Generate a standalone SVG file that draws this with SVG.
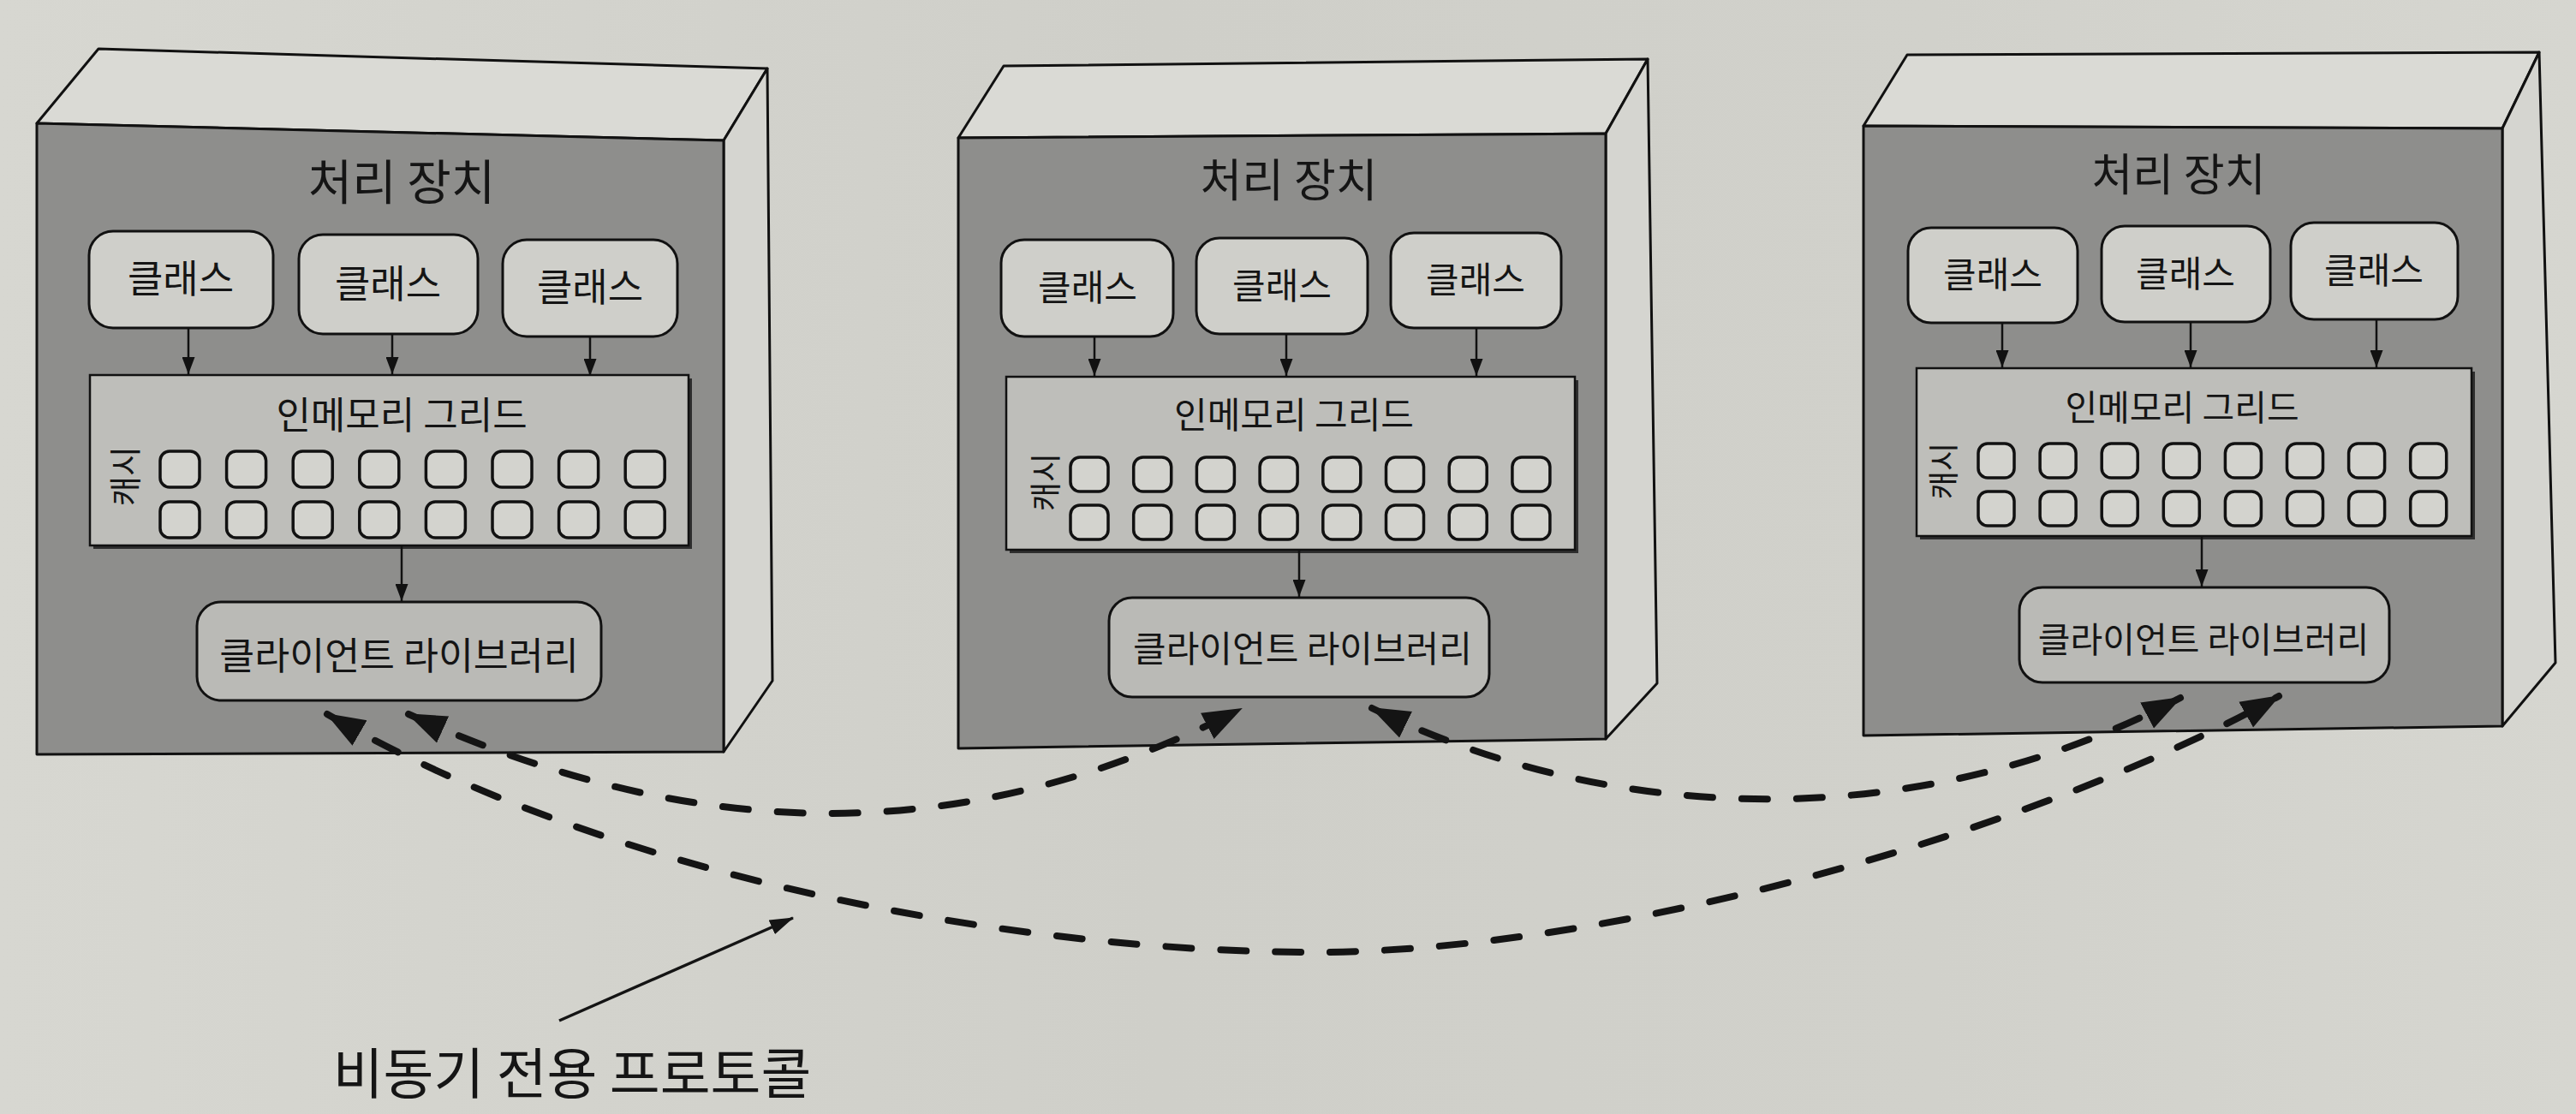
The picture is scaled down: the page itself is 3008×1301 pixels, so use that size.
<svg xmlns="http://www.w3.org/2000/svg" width="3008" height="1301" viewBox="0 0 3008 1301">
<defs>
<linearGradient id="paper" x1="0" y1="0" x2="1" y2="0">
<stop offset="0" stop-color="#d7d7d1"/>
<stop offset="0.45" stop-color="#cfcfc9"/>
<stop offset="0.75" stop-color="#d1d1cb"/>
<stop offset="1" stop-color="#d6d6d0"/>
</linearGradient>
<marker id="ah" markerUnits="userSpaceOnUse" markerWidth="20" markerHeight="15" viewBox="0 0 20 15" refX="20" refY="7.5" orient="auto">
<path d="M0,0 L20,7.5 L0,15 z" fill="#111"/>
</marker>
<marker id="big" markerUnits="userSpaceOnUse" markerWidth="46" markerHeight="36" viewBox="0 0 46 36" refX="44" refY="18" orient="auto-start-reverse">
<path d="M0,1 L46,18 L0,35 z" fill="#141414"/>
</marker>
<marker id="small" markerUnits="userSpaceOnUse" markerWidth="28" markerHeight="18" viewBox="0 0 28 18" refX="27" refY="9" orient="auto">
<path d="M0,0 L28,9 L0,18 z" fill="#141414"/>
</marker>
<style>
.top{fill:#dadad5;stroke:#111;stroke-width:3;stroke-linejoin:round}
.side{fill:#d5d5d0;stroke:#111;stroke-width:3;stroke-linejoin:round}
.front{fill:#8e8e8c;stroke:#111;stroke-width:3;stroke-linejoin:round}
.cls{fill:#cfcfca;stroke:#111;stroke-width:3}
.grid{fill:#bebeba;stroke:#111;stroke-width:2.5}
.shadow{fill:#2e2e2e}
.client{fill:#babab6;stroke:#111;stroke-width:3}
.cell{fill:#d3d3ce;stroke:#111;stroke-width:3.5}
.t{font-family:"Noto Sans CJK KR","Noto Sans",sans-serif;fill:#151515;text-anchor:middle}
.flow{stroke:#111;stroke-width:2.5;fill:none}
.dash{fill:none;stroke:#141414;stroke-width:8;stroke-dasharray:30 34;stroke-linecap:round}
.ptr{fill:none;stroke:#141414;stroke-width:3.5}
</style>
</defs>
<rect x="0" y="0" width="3008" height="1301" fill="url(#paper)"/>

<g id="node-processing-unit-1">
<polygon class="top" points="43,144 115,57 896,80 845,164"/>
<polygon class="side" points="845,164 896,80 902,795 845,878"/>
<polygon class="front" points="43,144 845,164 845,878 43,881"/>
<text class="t" x="469" y="233" font-size="56">처리 장치</text>
<g id="b1-class-a"><rect class="cls" x="104" y="270" width="215" height="113" rx="28"/><text class="t" x="211" y="342" font-size="45">클래스</text></g>
<g id="b1-class-b"><rect class="cls" x="349" y="274" width="209" height="116" rx="28"/><text class="t" x="453" y="348" font-size="45">클래스</text></g>
<g id="b1-class-c"><rect class="cls" x="587" y="280" width="204" height="113" rx="28"/><text class="t" x="689" y="352" font-size="45">클래스</text></g>
<g id="b1-grid">
<rect class="shadow" x="109" y="442" width="699" height="199"/>
<rect class="grid" x="105" y="438" width="699" height="199"/>
<text class="t" x="469" y="501" font-size="44">인메모리 그리드</text>
<text class="t" font-size="38" transform="translate(160,556) rotate(-90)">캐시</text>
<rect class="cell" x="187" y="527" width="46" height="42" rx="11"/>
<rect class="cell" x="264.6" y="527" width="46" height="42" rx="11"/>
<rect class="cell" x="342.2" y="527" width="46" height="42" rx="11"/>
<rect class="cell" x="419.8" y="527" width="46" height="42" rx="11"/>
<rect class="cell" x="497.4" y="527" width="46" height="42" rx="11"/>
<rect class="cell" x="575" y="527" width="46" height="42" rx="11"/>
<rect class="cell" x="652.6" y="527" width="46" height="42" rx="11"/>
<rect class="cell" x="730.2" y="527" width="46" height="42" rx="11"/>
<rect class="cell" x="187" y="586" width="46" height="42" rx="11"/>
<rect class="cell" x="264.6" y="586" width="46" height="42" rx="11"/>
<rect class="cell" x="342.2" y="586" width="46" height="42" rx="11"/>
<rect class="cell" x="419.8" y="586" width="46" height="42" rx="11"/>
<rect class="cell" x="497.4" y="586" width="46" height="42" rx="11"/>
<rect class="cell" x="575" y="586" width="46" height="42" rx="11"/>
<rect class="cell" x="652.6" y="586" width="46" height="42" rx="11"/>
<rect class="cell" x="730.2" y="586" width="46" height="42" rx="11"/>
</g>
<g id="b1-client"><rect class="client" x="230" y="703" width="472" height="115" rx="28"/><text class="t" x="466" y="782" font-size="44.5">클라이언트 라이브러리</text></g>
</g>

<g id="node-processing-unit-2">
<polygon class="top" points="1119,161 1172,77 1924,69 1875,156"/>
<polygon class="side" points="1875,156 1924,69 1935,798 1875,863"/>
<polygon class="front" points="1119,161 1875,156 1875,863 1119,874"/>
<text class="t" x="1505" y="230" font-size="53">처리 장치</text>
<g id="b2-class-a"><rect class="cls" x="1169" y="280" width="201" height="113" rx="27"/><text class="t" x="1270" y="351" font-size="42">클래스</text></g>
<g id="b2-class-b"><rect class="cls" x="1397" y="278" width="200" height="112" rx="27"/><text class="t" x="1497" y="349" font-size="42">클래스</text></g>
<g id="b2-class-c"><rect class="cls" x="1624" y="272" width="199" height="111" rx="27"/><text class="t" x="1723" y="342" font-size="42">클래스</text></g>
<g id="b2-grid">
<rect class="shadow" x="1179" y="444" width="664" height="202"/>
<rect class="grid" x="1175" y="440" width="664" height="202"/>
<text class="t" x="1511" y="500" font-size="42">인메모리 그리드</text>
<text class="t" font-size="37" transform="translate(1235,563) rotate(-90)">캐시</text>
<rect class="cell" x="1250" y="534" width="44" height="40" rx="11"/>
<rect class="cell" x="1323.7" y="534" width="44" height="40" rx="11"/>
<rect class="cell" x="1397.4" y="534" width="44" height="40" rx="11"/>
<rect class="cell" x="1471.1" y="534" width="44" height="40" rx="11"/>
<rect class="cell" x="1544.8" y="534" width="44" height="40" rx="11"/>
<rect class="cell" x="1618.5" y="534" width="44" height="40" rx="11"/>
<rect class="cell" x="1692.2" y="534" width="44" height="40" rx="11"/>
<rect class="cell" x="1765.9" y="534" width="44" height="40" rx="11"/>
<rect class="cell" x="1250" y="590" width="44" height="40" rx="11"/>
<rect class="cell" x="1323.7" y="590" width="44" height="40" rx="11"/>
<rect class="cell" x="1397.4" y="590" width="44" height="40" rx="11"/>
<rect class="cell" x="1471.1" y="590" width="44" height="40" rx="11"/>
<rect class="cell" x="1544.8" y="590" width="44" height="40" rx="11"/>
<rect class="cell" x="1618.5" y="590" width="44" height="40" rx="11"/>
<rect class="cell" x="1692.2" y="590" width="44" height="40" rx="11"/>
<rect class="cell" x="1765.9" y="590" width="44" height="40" rx="11"/>
</g>
<g id="b2-client"><rect class="client" x="1295" y="698" width="444" height="116" rx="27"/><text class="t" x="1521" y="773" font-size="42">클라이언트 라이브러리</text></g>
</g>

<g id="node-processing-unit-3">
<polygon class="top" points="2176,147 2227,64 2965,61 2922,150"/>
<polygon class="side" points="2922,150 2965,61 2984,774 2922,848"/>
<polygon class="front" points="2176,147 2922,150 2922,848 2176,859"/>
<text class="t" x="2544" y="223" font-size="52">처리 장치</text>
<g id="b3-class-a"><rect class="cls" x="2228" y="266" width="198" height="111" rx="27"/><text class="t" x="2327" y="336" font-size="42">클래스</text></g>
<g id="b3-class-b"><rect class="cls" x="2454" y="264" width="197" height="112" rx="27"/><text class="t" x="2552" y="335" font-size="42">클래스</text></g>
<g id="b3-class-c"><rect class="cls" x="2675" y="260" width="195" height="113" rx="27"/><text class="t" x="2772" y="331" font-size="42">클래스</text></g>
<g id="b3-grid">
<rect class="shadow" x="2242" y="434" width="648" height="196"/>
<rect class="grid" x="2238" y="430" width="648" height="196"/>
<text class="t" x="2548" y="491" font-size="41">인메모리 그리드</text>
<text class="t" font-size="36" transform="translate(2283,550) rotate(-90)">캐시</text>
<rect class="cell" x="2310" y="518" width="42" height="40" rx="11"/>
<rect class="cell" x="2382.1" y="518" width="42" height="40" rx="11"/>
<rect class="cell" x="2454.2" y="518" width="42" height="40" rx="11"/>
<rect class="cell" x="2526.3" y="518" width="42" height="40" rx="11"/>
<rect class="cell" x="2598.4" y="518" width="42" height="40" rx="11"/>
<rect class="cell" x="2670.5" y="518" width="42" height="40" rx="11"/>
<rect class="cell" x="2742.6" y="518" width="42" height="40" rx="11"/>
<rect class="cell" x="2814.7" y="518" width="42" height="40" rx="11"/>
<rect class="cell" x="2310" y="574" width="42" height="40" rx="11"/>
<rect class="cell" x="2382.1" y="574" width="42" height="40" rx="11"/>
<rect class="cell" x="2454.2" y="574" width="42" height="40" rx="11"/>
<rect class="cell" x="2526.3" y="574" width="42" height="40" rx="11"/>
<rect class="cell" x="2598.4" y="574" width="42" height="40" rx="11"/>
<rect class="cell" x="2670.5" y="574" width="42" height="40" rx="11"/>
<rect class="cell" x="2742.6" y="574" width="42" height="40" rx="11"/>
<rect class="cell" x="2814.7" y="574" width="42" height="40" rx="11"/>
</g>
<g id="b3-client"><rect class="client" x="2358" y="686" width="432" height="111" rx="27"/><text class="t" x="2573" y="762" font-size="41">클라이언트 라이브러리</text></g>
</g>

<g id="label-protocol">
<text class="t" x="668" y="1277" font-size="64">비동기 전용 프로토콜</text>
</g>

<g id="connectors">
<line class="flow" x1="220" y1="383" x2="220" y2="437" marker-end="url(#ah)"/>
<line class="flow" x1="458" y1="390" x2="458" y2="437" marker-end="url(#ah)"/>
<line class="flow" x1="689" y1="393" x2="689" y2="439" marker-end="url(#ah)"/>
<line class="flow" x1="469" y1="637" x2="469" y2="702" marker-end="url(#ah)"/>
<line class="flow" x1="1278" y1="393" x2="1278" y2="439" marker-end="url(#ah)"/>
<line class="flow" x1="1502" y1="390" x2="1502" y2="439" marker-end="url(#ah)"/>
<line class="flow" x1="1724" y1="383" x2="1724" y2="439" marker-end="url(#ah)"/>
<line class="flow" x1="1517" y1="642" x2="1517" y2="697" marker-end="url(#ah)"/>
<line class="flow" x1="2338" y1="377" x2="2338" y2="429" marker-end="url(#ah)"/>
<line class="flow" x1="2558" y1="376" x2="2558" y2="429" marker-end="url(#ah)"/>
<line class="flow" x1="2775" y1="373" x2="2775" y2="429" marker-end="url(#ah)"/>
<line class="flow" x1="2571" y1="626" x2="2571" y2="685" marker-end="url(#ah)"/>
<path class="dash" d="M477,834 C807,983 1119,996 1449,828" marker-start="url(#big)" marker-end="url(#big)"/>
<path class="dash" d="M1602,827 C1899,972 2254,969 2546,815" marker-start="url(#big)" marker-end="url(#big)"/>
<path class="dash" d="M382,834 C720,1030 1200,1112 1535,1112 C1900,1112 2400,960 2661,813" marker-start="url(#big)" marker-end="url(#big)"/>
<line class="ptr" x1="653" y1="1192" x2="926" y2="1072" marker-end="url(#small)"/>
</g>
</svg>
